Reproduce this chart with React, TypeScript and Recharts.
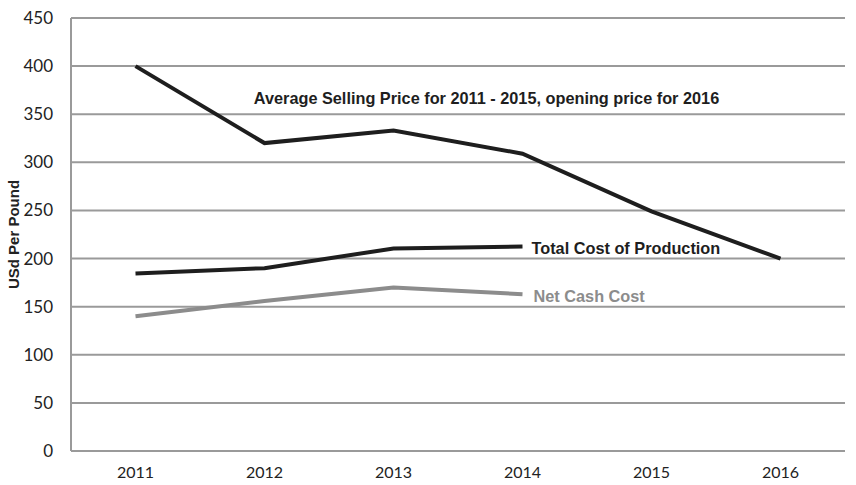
import React from 'react';
import { LineChart, Line, XAxis, YAxis, CartesianGrid, Label } from 'recharts';

const years = ['2011', '2012', '2013', '2014', '2015', '2016'];
const avgSellingPrice = [400, 320, 333, 309, 249, 200];
const totalCost = [184.5, 190, 210.5, 212.5, null, null];
const netCashCost = [140, 156, 170, 163, null, null];
const yTicks = [0, 50, 100, 150, 200, 250, 300, 350, 400, 450];

const data = years.map((y, i) => ({
  year: y,
  avg: avgSellingPrice[i],
  total: totalCost[i],
  net: netCashCost[i],
}));

const labelFont = '"Liberation Sans", Arial, sans-serif';

const makeLabel = (idx: number, text: string, color: string, dx: number, dy: number, anchor: string) => (props: any) => {
  if (props.index !== idx) return null;
  return (
    <text
      key={text}
      x={props.x + dx}
      y={props.y + dy}
      textAnchor={anchor as any}
      dominantBaseline="central"
      fontFamily={labelFont}
      fontWeight="bold"
      fontSize={16.3}
      fill={color}
    >
      {text}
    </text>
  );
};

export default function App() {
  return (
    <div style={{ position: 'absolute', left: 0, top: 0, background: '#fff' }}>
      <LineChart width={856} height={485} data={data} margin={{ top: 18, right: 11, bottom: 4, left: 21 }}>
        <CartesianGrid vertical={false} stroke="#9a9a9a" strokeWidth={2} />
        <XAxis
          dataKey="year"
          axisLine={{ stroke: '#9a9a9a', strokeWidth: 2 }}
          tickLine={false}
          tickMargin={10}
          height={30}
          padding={{ left: 64.5, right: 64.5 }}
          tick={{ fill: '#222', fontSize: 16, fontFamily: 'Lato, sans-serif' }}
          interval={0}
        />
        <YAxis
          domain={[0, 450]}
          ticks={yTicks}
          width={50}
          axisLine={{ stroke: '#9a9a9a', strokeWidth: 2 }}
          tickLine={false}
          tickMargin={12}
          tick={{ fill: '#222', fontSize: 17, fontFamily: 'Lato, sans-serif' }}
        >
          <Label
            value="USd Per Pound"
            angle={-90}
            position="insideLeft"
            offset={-7}
            style={{ textAnchor: 'middle', fontFamily: labelFont, fontWeight: 'bold', fontSize: 15, fill: '#222' }}
          />
        </YAxis>
        <Line
          dataKey="net"
          stroke="#8c8c8c"
          strokeWidth={4}
          dot={false}
          isAnimationActive={false}
          label={makeLabel(3, 'Net Cash Cost', '#8c8c8c', 11, 2, 'start')}
        />
        <Line
          dataKey="total"
          stroke="#1e1e1e"
          strokeWidth={4}
          dot={false}
          isAnimationActive={false}
          label={makeLabel(3, 'Total Cost of Production', '#1e1e1e', 9, 1, 'start')}
        />
        <Line
          dataKey="avg"
          stroke="#1e1e1e"
          strokeWidth={4}
          dot={false}
          isAnimationActive={false}
          label={makeLabel(2, 'Average Selling Price for 2011 - 2015, opening price for 2016', '#1e1e1e', 93, -33, 'middle')}
        />
      </LineChart>
    </div>
  );
}
